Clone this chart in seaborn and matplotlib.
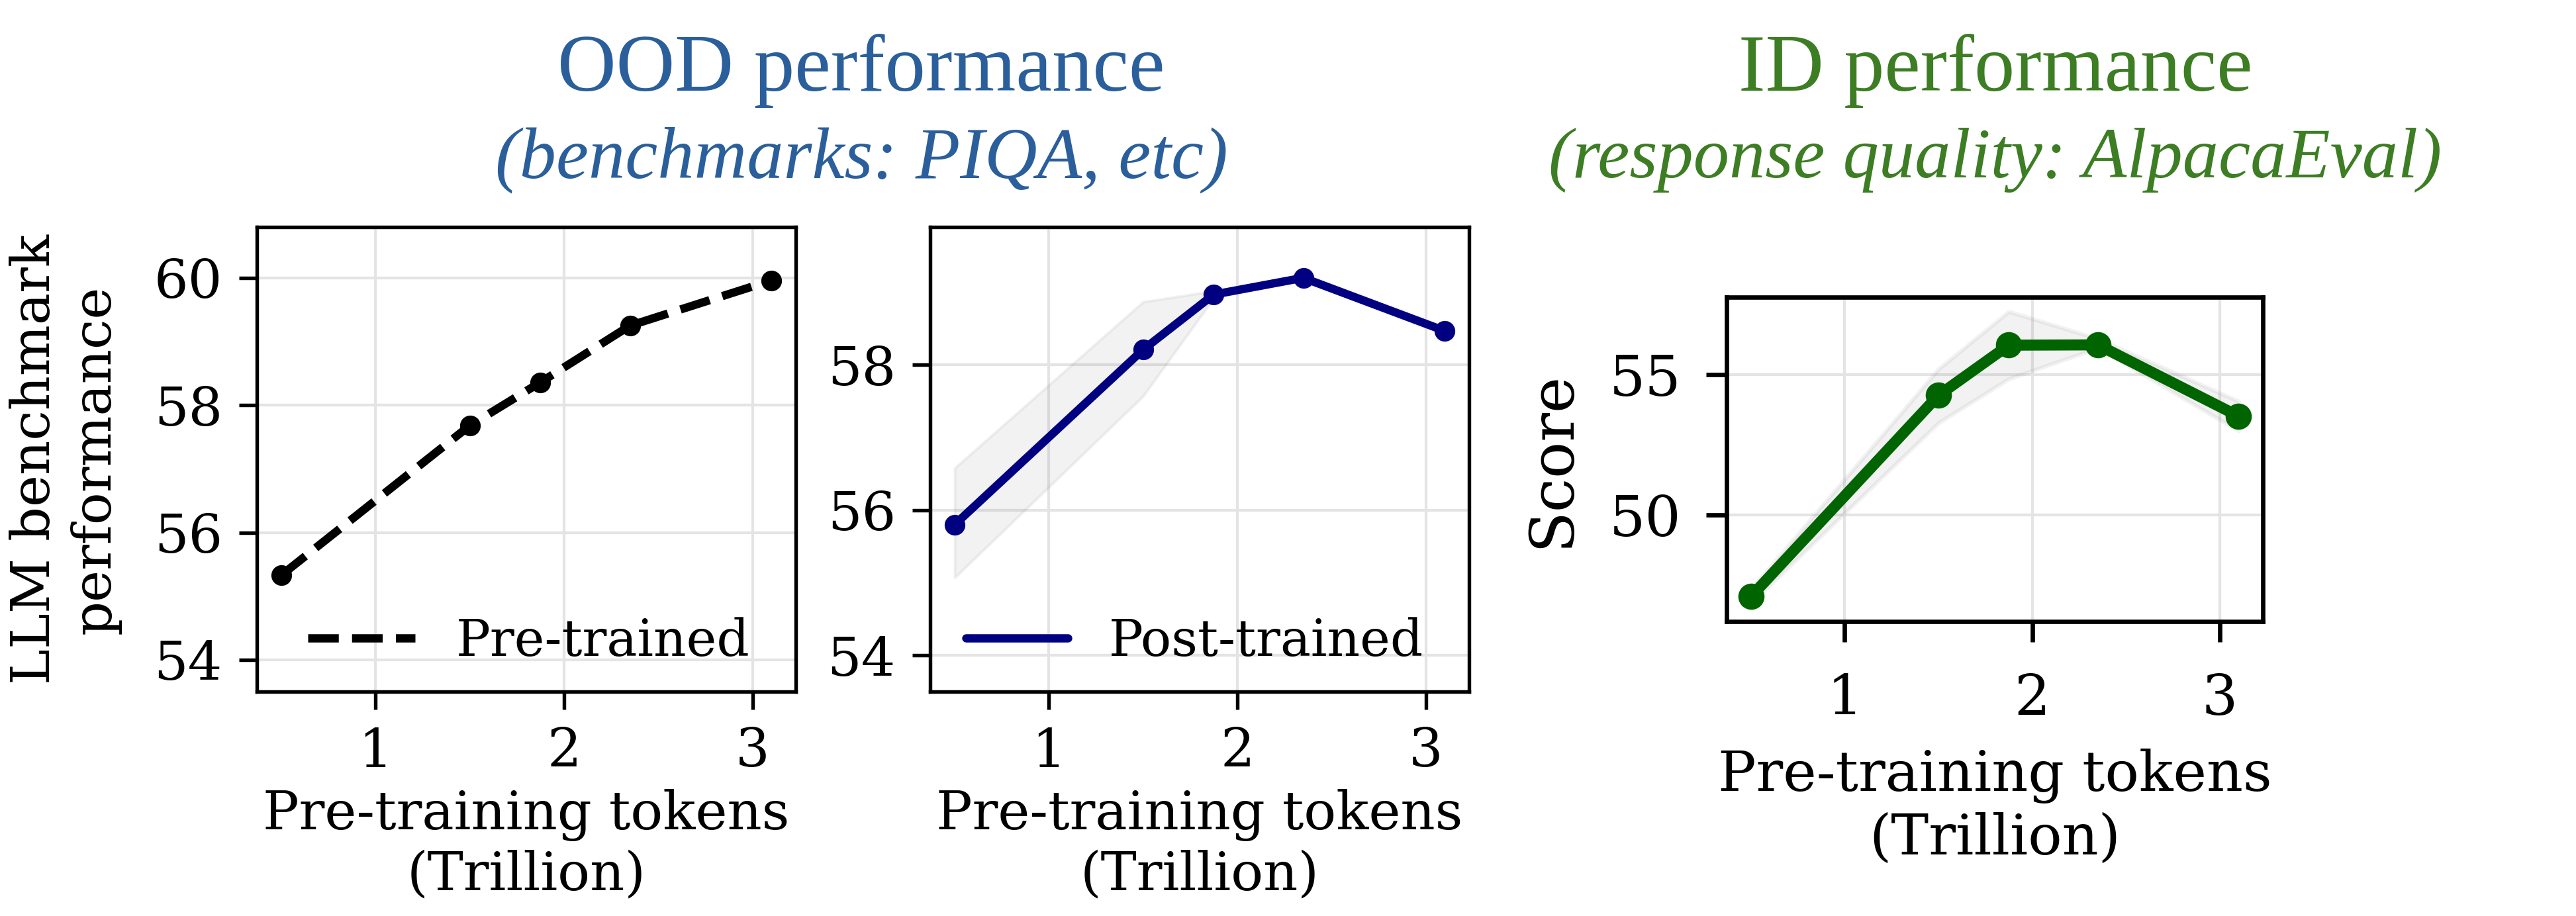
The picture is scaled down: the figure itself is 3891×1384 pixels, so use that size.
import matplotlib.pyplot as plt
import seaborn as sns
from matplotlib.lines import Line2D

# Pre-training tokens (Trillion) shared by all three panels.
tokens = [0.5, 1.5, 1.875, 2.35, 3.1]

# OOD benchmark performance of the pre-trained checkpoints.
pre_scores = [55.33, 57.68, 58.36, 59.25, 59.96]

# OOD benchmark performance after post-training, with spread band.
post_scores = [55.80, 58.21, 58.97, 59.20, 58.47]
post_low = [55.07, 57.57, 58.92, 59.20, 58.47]
post_high = [56.58, 58.87, 59.02, 59.20, 58.47]

# ID response quality (AlpacaEval score), with spread band.
id_scores = [47.09, 54.26, 56.05, 56.06, 53.52]
id_low = [46.85, 53.28, 54.85, 55.95, 53.00]
id_high = [47.35, 55.20, 57.25, 56.28, 54.05]

x_ticks = [1, 2, 3]
pre_yticks = [54, 56, 58, 60]
post_yticks = [54, 56, 58]
id_yticks = [50, 55]

W, H = 3891, 1384
DPI = 300

sns.set_theme(style="ticks")
plt.rcParams["font.family"] = "DejaVu Serif"
plt.rcParams["text.color"] = "black"
plt.rcParams["axes.labelcolor"] = "black"
plt.rcParams["xtick.color"] = "black"
plt.rcParams["ytick.color"] = "black"
plt.rcParams["axes.edgecolor"] = "black"

OOD_COLOR = "#2a5f9c"
ID_COLOR = "#3d7d24"


def style_axes(ax, fontsize, spine_w, tick_len, pad):
    # Light grid behind the data, thick black frame.
    ax.set_axisbelow(True)
    ax.grid(True, color="#e4e4e4", linewidth=1.0)
    for spine in ax.spines.values():
        spine.set_visible(True)
        spine.set_linewidth(spine_w)
        spine.set_color("black")
    ax.tick_params(axis="both", direction="out", length=tick_len,
                   width=spine_w, pad=pad, labelsize=fontsize,
                   colors="black")
    ax.set_xticks(x_ticks)


fig = plt.figure(figsize=(W / DPI, H / DPI), dpi=DPI)

# Panel positions in pixels, turned into figure fractions.
ax1 = fig.add_axes([388 / W, 1 - 1045 / H, 814 / W, 702 / H])
ax2 = fig.add_axes([1405 / W, 1 - 1045 / H, 814 / W, 702 / H])
ax3 = fig.add_axes([2608 / W, 1 - 939 / H, 810 / W, 490 / H])

fs = 19.5
fs_leg = 18.5

# Panel 1: pre-trained models.
sns.lineplot(x=tokens, y=pre_scores, ax=ax1, color="black", linestyle="--",
             linewidth=3.0, marker="o", markersize=7.5,
             markeredgecolor="black", markeredgewidth=0)
style_axes(ax1, fs, 1.3, 6.5, 6.0)
ax1.set_ylim(53.5, 60.8)
ax1.set_yticks(pre_yticks)
ax1.set_xlabel("Pre-training tokens\n(Trillion)", fontsize=fs)
ax1.set_ylabel("LLM benchmark\nperformance", fontsize=fs, labelpad=12)
ax1.legend(handles=[Line2D([], [], color="black", linestyle="--", linewidth=3.0)],
           labels=["Pre-trained"], loc="lower right", frameon=False,
           fontsize=fs_leg, handlelength=2.1, bbox_to_anchor=(1.0, -0.045))

# Panel 2: post-trained models with a grey spread band.
ax2.fill_between(tokens, post_low, post_high, color="gray", alpha=0.1,
                 linewidth=1.0)
sns.lineplot(x=tokens, y=post_scores, ax=ax2, color="navy", linewidth=3.0,
             marker="o", markersize=7.5, markeredgecolor="navy",
             markeredgewidth=0)
style_axes(ax2, fs, 1.3, 6.5, 6.0)
ax2.set_ylim(53.5, 59.9)
ax2.set_yticks(post_yticks)
ax2.set_xlabel("Pre-training tokens\n(Trillion)", fontsize=fs)
ax2.set_ylabel("")
ax2.legend(handles=[Line2D([], [], color="navy", linewidth=3.0)],
           labels=["Post-trained"], loc="lower right", frameon=False,
           fontsize=fs_leg, handlelength=2.0, bbox_to_anchor=(1.0, -0.045))

# Panel 3: ID performance (AlpacaEval score).
fs3 = 20.5
ax3.fill_between(tokens, id_low, id_high, color="gray", alpha=0.1,
                 linewidth=1.5)
sns.lineplot(x=tokens, y=id_scores, ax=ax3, color="darkgreen", linewidth=4.0,
             marker="o", markersize=9.5, markeredgecolor="darkgreen",
             markeredgewidth=0)
style_axes(ax3, fs3, 1.6, 7.4, 9)
ax3.tick_params(axis="x", pad=11)
ax3.set_ylim(46.2, 57.76)
ax3.set_yticks(id_yticks)
ax3.set_xlabel("Pre-training tokens\n(Trillion)", fontsize=fs3, labelpad=8)
ax3.set_ylabel("Score", fontsize=fs3 + 1.5, labelpad=10)

# Group titles above the panels.
title_font = "Liberation Serif"
fig.text(1301 / W, 1 - 137 / H, "OOD performance", color=OOD_COLOR,
         fontsize=29.5, family=title_font, ha="center", va="baseline")
fig.text(1301 / W, 1 - 268 / H, "(benchmarks: PIQA, etc)", color=OOD_COLOR,
         fontsize=26.5, family=title_font, style="italic", ha="center",
         va="baseline")
fig.text(3014 / W, 1 - 137 / H, "ID performance", color=ID_COLOR,
         fontsize=29.3, family=title_font, ha="center", va="baseline")
fig.text(3014 / W, 1 - 268 / H, "(response quality: AlpacaEval)",
         color=ID_COLOR, fontsize=26, family=title_font, style="italic",
         ha="center", va="baseline")

fig.savefig("out.png", dpi=DPI)
plt.close(fig)
